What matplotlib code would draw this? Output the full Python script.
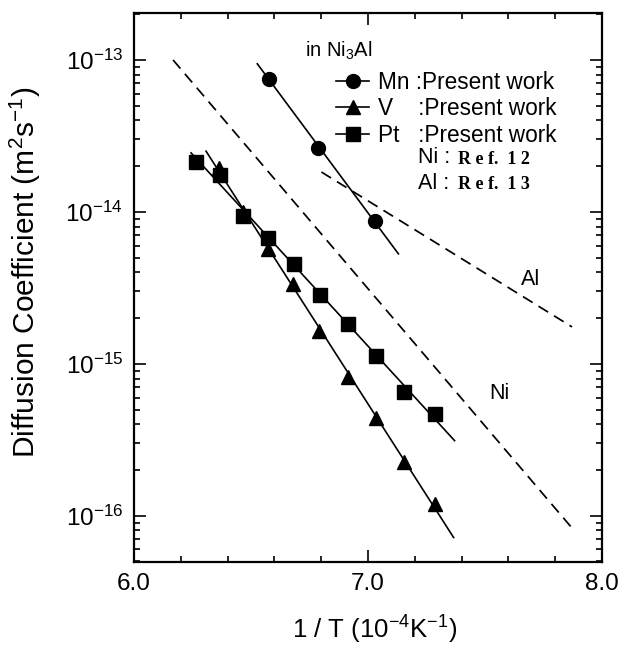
import numpy as np
import matplotlib
matplotlib.use('Agg')
import matplotlib.pyplot as plt
from matplotlib.lines import Line2D
from matplotlib.ticker import MultipleLocator, LogLocator, FixedLocator, FixedFormatter

plt.rcParams['font.family'] = 'Liberation Sans'
plt.rcParams['mathtext.fontset'] = 'custom'
plt.rcParams['mathtext.rm'] = 'Liberation Sans'
plt.rcParams['mathtext.it'] = 'Liberation Sans:italic'
plt.rcParams['mathtext.bf'] = 'Liberation Sans:bold'

# 1/T (10^-4 K^-1) and diffusion coefficients (m^2/s)
mn_x = [6.578, 6.788, 7.028]
mn_d = [7.50e-14, 2.64e-14, 8.73e-15]
v_x = [6.364, 6.467, 6.574, 6.681, 6.792, 6.916, 7.036, 7.156, 7.285]
v_d = [1.95e-14, 1.00e-14, 5.71e-15, 3.36e-15, 1.65e-15, 8.2e-16, 4.42e-16, 2.26e-16, 1.20e-16]
pt_x = [6.266, 6.368, 6.467, 6.574, 6.685, 6.797, 6.916, 7.036, 7.156, 7.285]
pt_d = [2.13e-14, 1.75e-14, 9.42e-15, 6.75e-15, 4.55e-15, 2.84e-15, 1.83e-15, 1.13e-15, 6.55e-16, 4.69e-16]

# extent of the fitted Arrhenius lines
mn_fit = [6.527, 7.13]
v_fit = [6.308, 7.366]
pt_fit = [6.244, 7.370]

# reference data (dashed lines)
ni_x = [6.167, 7.872]
ni_d = [1.0e-13, 8.3e-17]
al_x = [6.801, 7.872]
al_d = [1.83e-14, 1.75e-15]

y_ticks = [1e-16, 1e-15, 1e-14, 1e-13]
x_ticks = [6.0, 7.0, 8.0]
x_ticklabels = ['6.0', '7.0', '8.0']

fig = plt.figure(figsize=(6.22, 6.46), dpi=100)
ax = fig.add_axes([0.2154, 0.130, 0.7524, 0.850])

def fit_line(x, d, rng):
    p = np.polyfit(x, np.log10(d), 1)
    xx = np.array(rng)
    return xx, 10 ** np.polyval(p, xx)

dash = (0, (6.5, 4))
ax.plot(ni_x, ni_d, color='black', lw=1.25, linestyle=dash)
ax.plot(al_x, al_d, color='black', lw=1.25, linestyle=dash)

for x, d, rng in [(mn_x, mn_d, mn_fit), (v_x, v_d, v_fit), (pt_x, pt_d, pt_fit)]:
    xx, yy = fit_line(x, d, rng)
    ax.plot(xx, yy, color='black', lw=1.2)

ax.plot(mn_x, mn_d, 'o', color='black', ms=10)
ax.plot(v_x, v_d, '^', color='black', ms=10.5)
ax.plot(pt_x, pt_d, 's', color='black', ms=9.5)

hmn = Line2D([], [], color='black', lw=1.2, marker='o', ms=10)
hv = Line2D([], [], color='black', lw=1.2, marker='^', ms=10.5)
hpt = Line2D([], [], color='black', lw=1.2, marker='s', ms=9.5)
ax.legend([hmn, hv, hpt], ['Mn :Present work', 'V    :Present work', 'Pt   :Present work'],
          loc='upper left', bbox_to_anchor=(0.432, 0.895), frameon=False,
          fontsize=16.3, handlelength=1.46, handletextpad=0.4, labelspacing=0.16,
          borderpad=0, borderaxespad=0)

ax.text(0.365, 0.931, 'in Ni$_3$Al', transform=ax.transAxes, fontsize=14.5, va='center')
ax.text(0.607, 0.736, 'Ni :', transform=ax.transAxes, fontsize=15.5, va='center')
ax.text(0.692, 0.733, 'R e f.  1 2', transform=ax.transAxes, fontsize=13,
        family='Liberation Serif', weight='bold', va='center')
ax.text(0.607, 0.690, 'Al :', transform=ax.transAxes, fontsize=15.5, va='center')
ax.text(0.692, 0.687, 'R e f.  1 3', transform=ax.transAxes, fontsize=13,
        family='Liberation Serif', weight='bold', va='center')

ax.text(7.695, 3.57e-15, 'Al', fontsize=15.5, ha='center', va='center')
ax.text(7.56, 6.35e-16, 'Ni', fontsize=15.5, ha='center', va='center')

ax.set_yscale('log')
ax.set_xlim(6.0, 8.0)
ax.set_ylim(4.96e-17, 2.04e-13)
ax.xaxis.set_major_locator(FixedLocator(x_ticks))
ax.xaxis.set_major_formatter(FixedFormatter(x_ticklabels))
ax.xaxis.set_minor_locator(MultipleLocator(0.2))
ax.yaxis.set_major_locator(FixedLocator(y_ticks))
ax.yaxis.set_minor_locator(LogLocator(base=10, subs=np.arange(2, 10), numticks=20))

ax.tick_params(which='both', direction='in', top=True, right=True, width=1.2)
ax.tick_params(which='major', length=8.5, labelsize=17.5, pad=8)
ax.tick_params(which='minor', length=4.5)
for s in ax.spines.values():
    s.set_linewidth(1.6)

ax.set_xlabel('1 / T (10$^{-4}$K$^{-1}$)', fontsize=18.5, labelpad=13)
ax.set_ylabel('Diffusion Coefficient (m$^2$s$^{-1}$)', fontsize=21.5, labelpad=15)
ax.xaxis.set_label_coords(0.515, -0.095)
ax.yaxis.set_label_coords(-0.195, 0.528)

fig.savefig('out.png', dpi=100)
